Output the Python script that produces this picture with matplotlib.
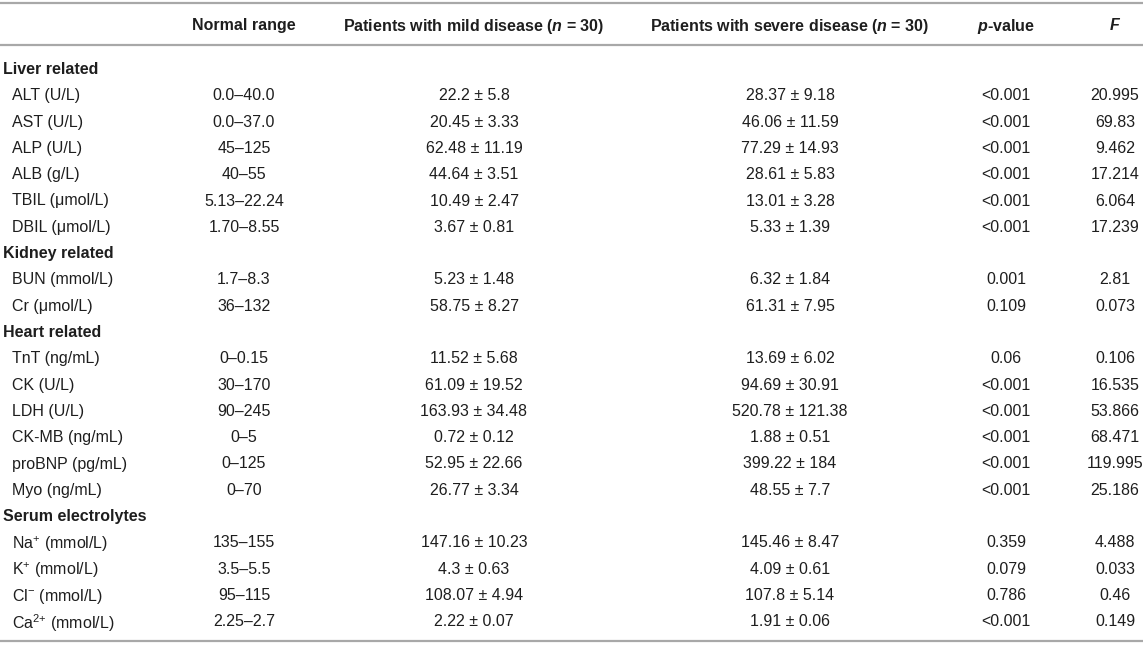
import matplotlib
matplotlib.use("Agg")
import matplotlib.pyplot as plt

plt.rcParams['font.family'] = ['Liberation Sans', 'DejaVu Sans']
plt.rcParams['mathtext.fontset'] = 'custom'
plt.rcParams['mathtext.rm'] = 'Liberation Sans'
plt.rcParams['mathtext.it'] = 'Liberation Sans:italic'
plt.rcParams['mathtext.bf'] = 'Liberation Sans:bold'
plt.rcParams['mathtext.bfit'] = 'Liberation Sans:italic:bold'

# Cabeçalhos das colunas
colunas = ["Normal range",
           r"Patients with mild disease ($\mathbfit{n}$ = 30)",
           r"Patients with severe disease ($\mathbfit{n}$ = 30)",
           r"$\mathbfit{p}$-value",
           r"$\mathbfit{F}$"]

# Grupos e itens
grupos = ["Liver related", "Kidney related", "Heart related", "Serum electrolytes"]
itens_por_grupo = [6, 2, 6, 4]

itens = ["ALT (U/L)", "AST (U/L)", "ALP (U/L)", "ALB (g/L)",
         "TBIL (μmol/L)", "DBIL (μmol/L)",
         "BUN (mmol/L)", "Cr (μmol/L)",
         "TnT (ng/mL)", "CK (U/L)", "LDH (U/L)", "CK-MB (ng/mL)",
         "proBNP (pg/mL)", "Myo (ng/mL)",
         r"Na$^{+}$ (mmol/L)", r"K$^{+}$ (mmol/L)",
         r"Cl$^{-}$ (mmol/L)", r"Ca$^{2{+}}$ (mmol/L)"]

faixa_normal = ["0.0–40.0", "0.0–37.0", "45–125", "40–55", "5.13–22.24", "1.70–8.55",
                "1.7–8.3", "36–132",
                "0–0.15", "30–170", "90–245", "0–5", "0–125", "0–70",
                "135–155", "3.5–5.5", "95–115", "2.25–2.7"]

leve = ["22.2 ± 5.8", "20.45 ± 3.33", "62.48 ± 11.19", "44.64 ± 3.51",
        "10.49 ± 2.47", "3.67 ± 0.81",
        "5.23 ± 1.48", "58.75 ± 8.27",
        "11.52 ± 5.68", "61.09 ± 19.52", "163.93 ± 34.48", "0.72 ± 0.12",
        "52.95 ± 22.66", "26.77 ± 3.34",
        "147.16 ± 10.23", "4.3 ± 0.63", "108.07 ± 4.94", "2.22 ± 0.07"]

grave = ["28.37 ± 9.18", "46.06 ± 11.59", "77.29 ± 14.93", "28.61 ± 5.83",
         "13.01 ± 3.28", "5.33 ± 1.39",
         "6.32 ± 1.84", "61.31 ± 7.95",
         "13.69 ± 6.02", "94.69 ± 30.91", "520.78 ± 121.38", "1.88 ± 0.51",
         "399.22 ± 184", "48.55 ± 7.7",
         "145.46 ± 8.47", "4.09 ± 0.61", "107.8 ± 5.14", "1.91 ± 0.06"]

p_valor = ["<0.001", "<0.001", "<0.001", "<0.001", "<0.001", "<0.001",
           "0.001", "0.109",
           "0.06", "<0.001", "<0.001", "<0.001", "<0.001", "<0.001",
           "0.359", "0.079", "0.786", "<0.001"]

valor_f = ["20.995", "69.83", "9.462", "17.214", "6.064", "17.239",
           "2.81", "0.073",
           "0.106", "16.535", "53.866", "68.471", "119.995", "25.186",
           "4.488", "0.033", "0.46", "0.149"]

# Layout (pixels)
W, H = 1143, 645
x_col = [244, 474, 790, 1006, 1115]
x_grupo, x_item = 3, 12
y_cab = 24
y_ini, passo = 68, 26.3
cor_texto = "#1e1e1e"
cor_linha = "#a8a8a8"
fs = 11.5

fig = plt.figure(figsize=(W / 100, H / 100), dpi=100)
ax = fig.add_axes([0, 0, 1, 1])
ax.set_xlim(0, W)
ax.set_ylim(H, 0)
ax.axis('off')

# Linhas horizontais
for y in [3, 45, 641]:
    ax.plot([0, W], [y, y], color=cor_linha, lw=1.6, solid_capstyle='butt')

# Cabeçalho
for x, txt in zip(x_col, colunas):
    ax.text(x, y_cab, txt, ha='center', va='center_baseline', fontsize=fs,
            fontweight='bold', color=cor_texto)

# Corpo da tabela
linha = 0
k = 0
for g, n in zip(grupos, itens_por_grupo):
    y = y_ini + passo * linha
    ax.text(x_grupo, y, g, ha='left', va='center_baseline', fontsize=fs,
            fontweight='bold', color=cor_texto)
    linha += 1
    for _ in range(n):
        y = y_ini + passo * linha
        ax.text(x_item, y, itens[k], ha='left', va='center_baseline', fontsize=fs,
                color=cor_texto)
        valores = [faixa_normal[k], leve[k], grave[k], p_valor[k], valor_f[k]]
        for x, v in zip(x_col, valores):
            ax.text(x, y, v, ha='center', va='center_baseline', fontsize=fs,
                    color=cor_texto)
        linha += 1
        k += 1

plt.savefig("out.png", dpi=100)
